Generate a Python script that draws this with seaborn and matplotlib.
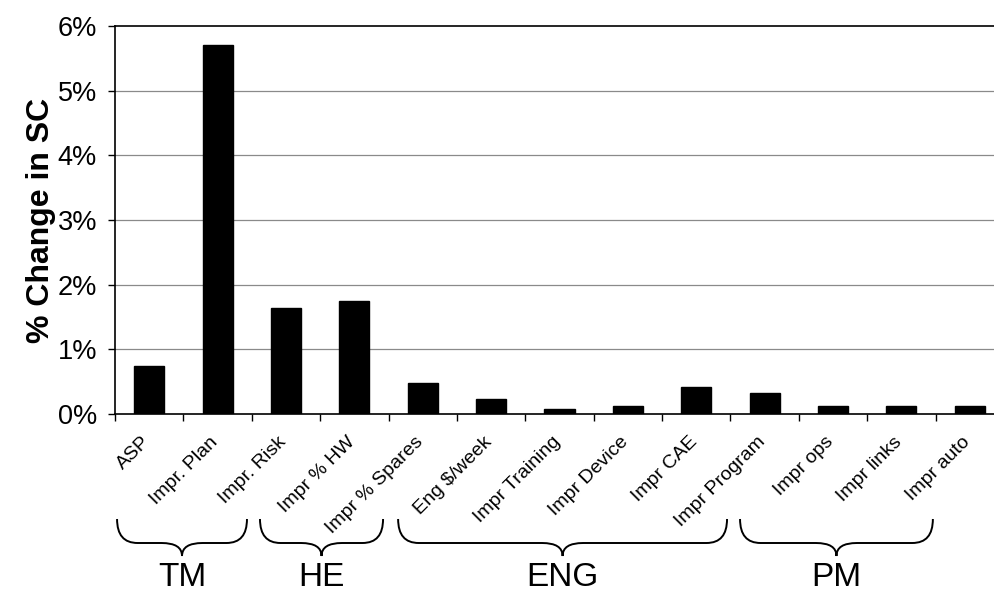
import matplotlib
matplotlib.use("Agg")
import matplotlib.pyplot as plt
from matplotlib.path import Path
from matplotlib.patches import PathPatch
import matplotlib.transforms as mtransforms
from matplotlib.ticker import FixedLocator, FuncFormatter
import seaborn as sns
import pandas as pd

categories = ["ASP", "Impr. Plan", "Impr. Risk", "Impr % HW", "Impr % Spares",
              "Eng $/week", "Impr Training", "Impr Device", "Impr CAE",
              "Impr Program", "Impr ops", "Impr links", "Impr auto"]
values = [0.74, 5.70, 1.64, 1.75, 0.48, 0.23, 0.08, 0.12, 0.42, 0.33, 0.12, 0.12, 0.12]
group_labels = ["TM", "HE", "ENG", "PM"]
group_spans = [(-0.47, 1.43), (1.62, 3.42), (3.64, 8.45), (8.64, 11.46)]
y_ticks = [0, 1, 2, 3, 4, 5, 6]

sns.set_style("white")
plt.rcParams['font.family'] = ['Liberation Sans', 'DejaVu Sans']
plt.rcParams['text.color'] = 'black'
plt.rcParams['axes.labelcolor'] = 'black'
plt.rcParams['xtick.color'] = 'black'
plt.rcParams['ytick.color'] = 'black'

fig = plt.figure(figsize=(9.95, 6.05), dpi=100)
ax = fig.add_axes([115/995, 1-414/605, 889/995, (414-26)/605])

df = pd.DataFrame({"cat": categories, "val": values})
sns.barplot(data=df, x="cat", y="val", order=categories, color="black",
            width=0.44, saturation=1, ax=ax, edgecolor="black")

ax.set_xlim(-0.5, 12.5)
ax.set_ylim(0, 6)
ax.set_yticks(y_ticks)
ax.yaxis.set_major_formatter(FuncFormatter(lambda v, p: f"{int(v)}%"))
ax.tick_params(axis="y", labelsize=19.5, length=5, width=1, direction="out",
               left=True, pad=8)
for y in y_ticks[1:-1]:
    ax.axhline(y, color="#8a8a8a", lw=0.9, zorder=0)

ax.set_xticks(range(len(categories)))
ax.set_xticklabels(categories, rotation=45, ha="right", rotation_mode="anchor", fontsize=14)
ax.tick_params(axis="x", which="major", length=0, pad=14)
offset = mtransforms.ScaledTranslation(-8/100, 0, fig.dpi_scale_trans)
for lbl in ax.get_xticklabels():
    lbl.set_transform(lbl.get_transform() + offset)
ax.xaxis.set_minor_locator(FixedLocator([i + 0.5 for i in range(-1, len(categories))]))
ax.tick_params(axis="x", which="minor", length=5, width=1, direction="out", bottom=True)
ax.set_xlabel("")
ax.set_ylabel("% Change in SC", fontsize=23, fontweight="bold")
ax.yaxis.set_label_coords(-0.066, 0.5)

for side in ["left", "bottom", "top"]:
    ax.spines[side].set_color("black")
    ax.spines[side].set_linewidth(1.2)
ax.spines["right"].set_visible(False)

trans = mtransforms.blended_transform_factory(ax.transData, fig.transFigure)
yt = 1 - 519/605
ym = 1 - 543/605
ytip = 1 - 556/605
r = 0.3
for (x0, x1), lab in zip(group_spans, group_labels):
    xm = (x0 + x1) / 2
    verts = [(x0, yt), (x0, ym), (x0 + r, ym),
             (xm - r, ym),
             (xm, ym), (xm, ytip),
             (xm, ym), (xm + r, ym),
             (x1 - r, ym),
             (x1, ym), (x1, yt)]
    codes = [Path.MOVETO, Path.CURVE3, Path.CURVE3,
             Path.LINETO,
             Path.CURVE3, Path.CURVE3,
             Path.CURVE3, Path.CURVE3,
             Path.LINETO,
             Path.CURVE3, Path.CURVE3]
    patch = PathPatch(Path(verts, codes), transform=trans, fill=False,
                      edgecolor="black", lw=1.4, clip_on=False)
    fig.add_artist(patch)
    fig.text(xm, 1 - 578/605, lab, transform=trans,
             ha="center", va="center", fontsize=24,
             family=['Liberation Sans Narrow', 'Liberation Sans'])

fig.savefig("out.png", dpi=100)
